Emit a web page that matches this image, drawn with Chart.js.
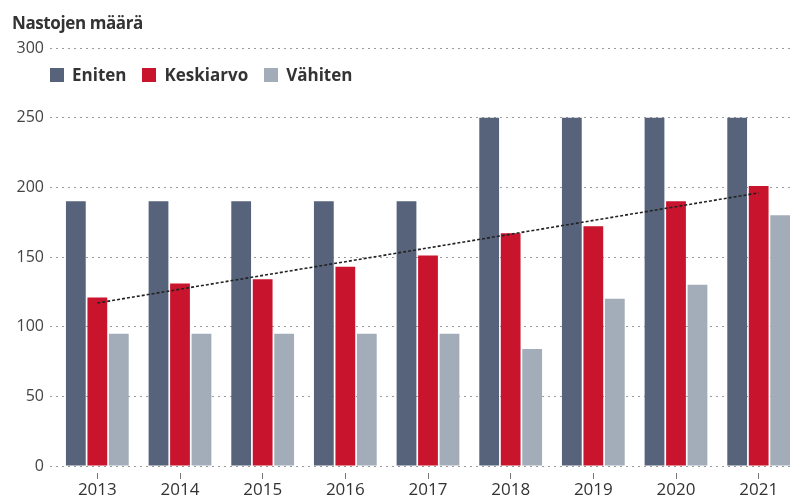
<!DOCTYPE html>
<html>
<head>
  <meta charset="UTF-8">
  <title>Nastojen määrä</title>
  <script src="https://cdn.jsdelivr.net/npm/chart.js"></script>
  <style>
    * { margin: 0; padding: 0; box-sizing: border-box; }
    html, body { width: 790px; height: 497px; overflow: hidden; background: #fff; }
    body { font-family: "Open Sans", sans-serif; position: relative; }
    .wrap { position: absolute; left: 0; top: 0; width: 800px; height: 502px; }
    h1 {
      position: absolute; left: 12px; top: 11px;
      font-size: 17px; font-weight: 700; color: #333; letter-spacing: -0.4px;
      z-index: 2;
    }
    .legend {
      position: absolute; left: 50px; top: 63px;
      display: flex; gap: 16px; z-index: 2;
      font-size: 17px; font-weight: 700; color: #333;
    }
    .legend span { display: flex; align-items: center; }
    .legend i { display: inline-block; width: 14px; height: 14px; margin-right: 8px; }
  </style>
</head>
<body>
  <h1>Nastojen määrä</h1>
  <div class="legend" id="legend"></div>
  <div class="wrap"><canvas id="chart" width="800" height="502"></canvas></div>

  <script>
    // --- Data ---
    const years     = ['2013', '2014', '2015', '2016', '2017', '2018', '2019', '2020', '2021'];
    const eniten    = [190, 190, 190, 190, 190, 250, 250, 250, 250];
    const keskiarvo = [121, 131, 134, 143, 151, 167, 172, 190, 201];
    const vahiten   = [95, 95, 95, 95, 95, 84, 120, 130, 180];
    const trend     = [117, null, null, null, null, null, null, null, 196];
    const yTicks    = [0, 50, 100, 150, 200, 250, 300];

    const names  = ['Eniten', 'Keskiarvo', 'Vähiten'];
    const colors = ['#56637a', '#c8142c', '#a3adb9'];

    // legend
    const legend = document.getElementById('legend');
    names.forEach((n, i) => {
      const s = document.createElement('span');
      s.innerHTML = '<i style="background:' + colors[i] + '"></i>' + n;
      legend.appendChild(s);
    });

    const barDs = (label, data, color) => ({
      type: 'bar',
      label,
      data,
      backgroundColor: color,
      categoryPercentage: 0.78,
      barPercentage: 0.92,
      order: 1,
    });

    new Chart(document.getElementById('chart'), {
      data: {
        labels: years,
        datasets: [
          barDs(names[0], eniten, colors[0]),
          barDs(names[1], keskiarvo, colors[1]),
          barDs(names[2], vahiten, colors[2]),
          {
            type: 'line',
            label: 'Trendi',
            data: trend,
            spanGaps: true,
            borderColor: '#222',
            borderWidth: 1.6,
            borderDash: [3, 2],
            pointRadius: 0,
            fill: false,
            order: 0,
          },
        ]
      },
      options: {
        responsive: false,
        animation: false,
        layout: { padding: { top: 48, left: 0, right: 0, bottom: 0 } },
        plugins: {
          legend: { display: false },
          tooltip: { enabled: false },
        },
        scales: {
          x: {
            offset: true,
            grid: {
              offset: false,
              drawOnChartArea: false,
              tickLength: 13,
              tickColor: '#777',
              tickBorderDash: [6, 20],
              tickBorderDashOffset: 19,
            },
            border: { display: false },
            ticks: { color: '#333', font: { family: 'Open Sans', size: 17 }, padding: 1 },
            afterFit: (s) => { s.height = 36; },
          },
          y: {
            min: 0,
            max: 300,
            afterBuildTicks: (s) => { s.ticks = yTicks.map(v => ({ value: v })); },
            grid: {
              color: '#9a9a9a',
              tickLength: 6,
              tickBorderDash: [2, 4],
            },
            border: { display: false, dash: [2, 4] },
            ticks: { color: '#444', font: { family: 'Open Sans', size: 16 }, padding: 6 },
            afterFit: (s) => { s.width = 56; },
          }
        }
      }
    });
  </script>
</body>
</html>
